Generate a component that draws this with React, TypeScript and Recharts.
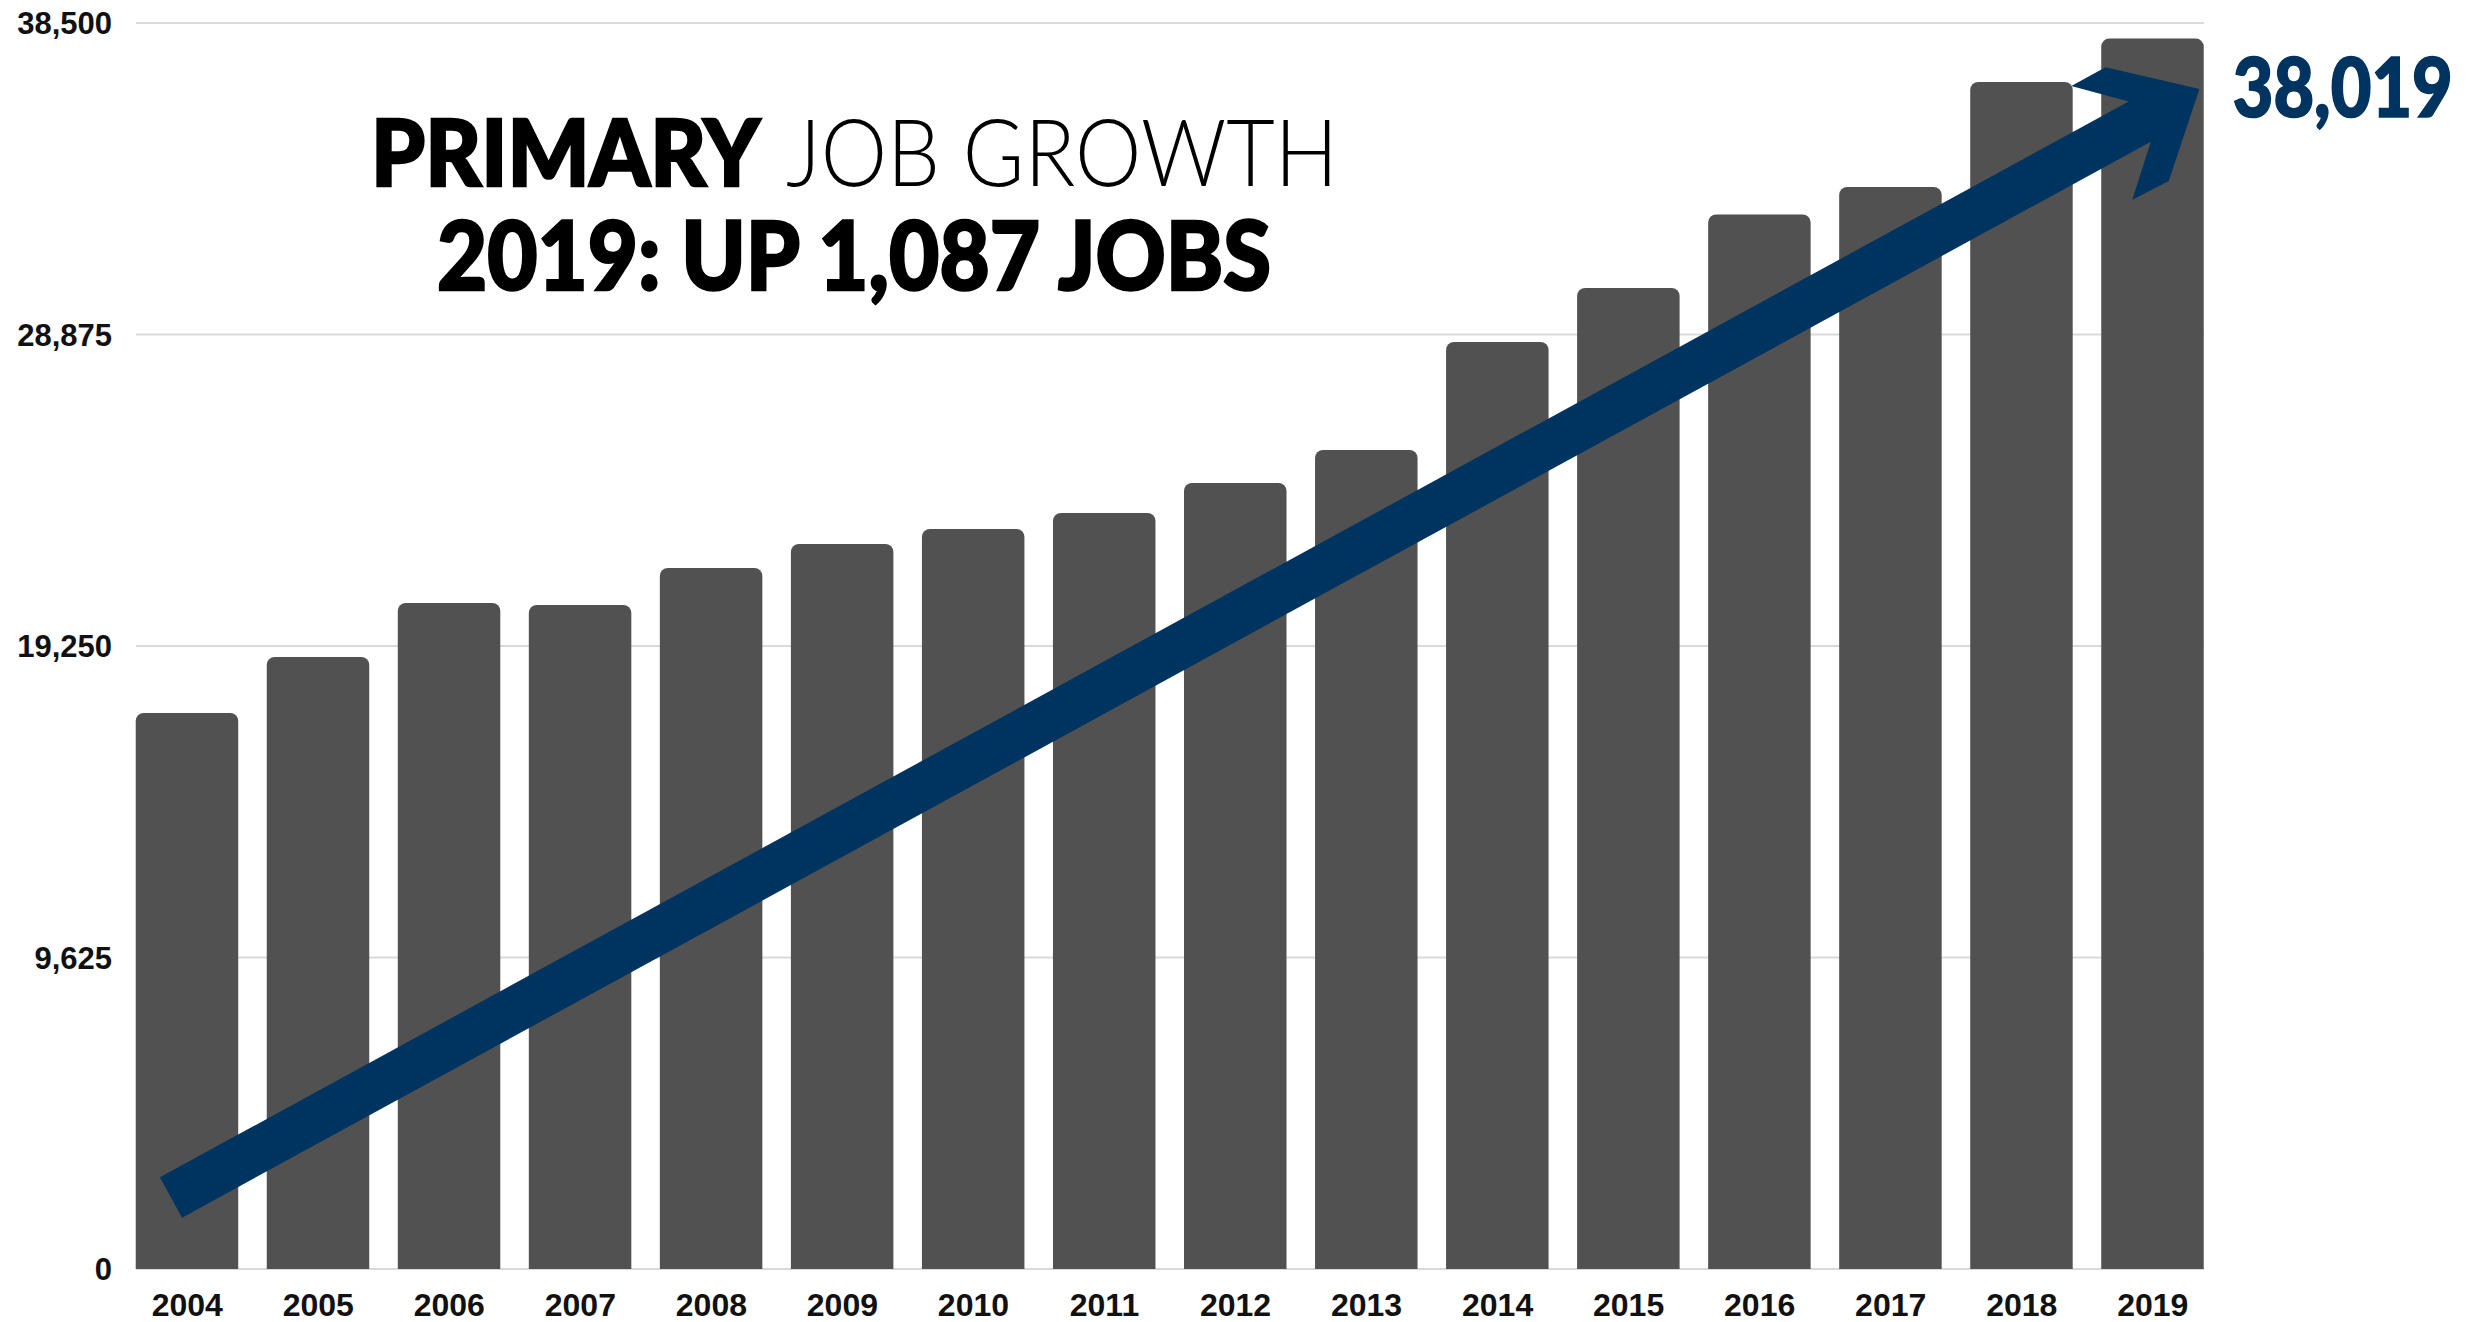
import React from 'react';
import { BarChart, Bar, XAxis, YAxis, CartesianGrid, ReferenceLine, LabelList } from 'recharts';

const years = [2004, 2005, 2006, 2007, 2008, 2009, 2010, 2011, 2012, 2013, 2014, 2015, 2016, 2017, 2018, 2019];
const jobs = [17180, 18910, 20578, 20517, 21660, 22402, 22865, 23360, 24287, 25306, 28643, 30312, 32583, 33432, 36680, 38019];
const yTicks = [0, 9625, 19250, 28875, 38500];
const arrowStart = { x: 2003.876, y: 2209 };
const arrowEnd = { x: 2019.356, y: 36461 };
const titleBold = 'PRIMARY';
const titleLight = 'JOB GROWTH';
const subtitle = '2019: UP 1,087 JOBS';

const data = years.map((year, i) => ({ year, jobs: jobs[i] }));

const NAVY = '#003460';
const BAR = '#515151';
const HALF_BAR = 0.391;

const ArrowShape = (p: any) => {
  const { x1, y1, x2, y2 } = p;
  const dx = x2 - x1;
  const dy = y2 - y1;
  const L = Math.hypot(dx, dy);
  const ux = dx / L;
  const uy = dy / L;
  const nx = uy;
  const ny = -ux;
  const h = 23;
  const local: [number, number][] = [
    [-L, h],
    [-68, h],
    [-111, 64],
    [-72, 64],
    [0, 0],
    [-71, -66],
    [-112, -65],
    [-68, -h],
    [-L, -h],
  ];
  const pts = local
    .map(([u, n]) => `${x2 + u * ux + n * nx},${y2 + u * uy + n * ny}`)
    .join(' ');
  return <polygon points={pts} fill={NAVY} />;
};

const XTick = (p: any) => {
  const { x, y, payload } = p;
  return (
    <text
      x={x}
      y={y + 39}
      textAnchor="middle"
      fontFamily="'Liberation Sans', Arial, sans-serif"
      fontWeight={700}
      fontSize={32}
      fill="#111"
    >
      {String(payload.value)}
    </text>
  );
};

const YTick = (p: any) => {
  const { x, y, payload } = p;
  return (
    <text
      x={x}
      y={y + 11}
      textAnchor="end"
      fontFamily="'Liberation Sans', Arial, sans-serif"
      fontWeight={700}
      fontSize={31}
      fill="#111"
    >
      {Number(payload.value).toLocaleString('en-US')}
    </text>
  );
};

const LastValueLabel = (p: any) => {
  const { x, y, width, value, index } = p;
  if (index !== data.length - 1) return null;
  const tx = x + width + 29;
  const ty = y + 78;
  return (
    <g transform={`translate(${tx},${ty}) scale(1,1.15)`}>
      <text
        x={0}
        y={0}
        fontFamily="Lato, 'Open Sans', sans-serif"
        fontWeight={900}
        fontSize={71}
        fill={NAVY}
        stroke={NAVY}
        strokeWidth={1.5}
        textLength={220}
        lengthAdjust="spacingAndGlyphs"
      >
        {Number(value).toLocaleString('en-US')}
      </text>
    </g>
  );
};

export default function App() {
  return (
    <div style={{ position: 'absolute', left: 0, top: 0, width: 2483, height: 1322, background: '#fff' }}>
      <BarChart
        width={2483}
        height={1322}
        data={data}
        margin={{ top: 23, right: 279, bottom: 0, left: 0 }}
      >
        <CartesianGrid vertical={false} stroke="#d9d9d9" strokeWidth={2} />
        <XAxis
          dataKey="year"
          type="number"
          domain={[years[0] - HALF_BAR, years[years.length - 1] + HALF_BAR]}
          ticks={years}
          interval={0}
          axisLine={false}
          tickLine={false}
          height={53}
          tick={<XTick />}
        />
        <YAxis
          domain={[0, 38500]}
          ticks={yTicks}
          width={136}
          axisLine={false}
          tickLine={false}
          tickMargin={18}
          tick={<YTick />}
        />
        <Bar dataKey="jobs" fill={BAR} barSize={102.5} radius={[8, 8, 0, 0]} isAnimationActive={false}>
          <LabelList dataKey="jobs" content={<LastValueLabel />} />
        </Bar>
        <ReferenceLine
          segment={[arrowStart, arrowEnd]}
          ifOverflow="visible"
          shape={(p: any) => <ArrowShape {...p} />}
        />
      </BarChart>
      <svg
        width={2483}
        height={1322}
        style={{ position: 'absolute', left: 0, top: 0, pointerEvents: 'none' }}
      >
        <text
          x={371}
          y={186}
          fontFamily="Lato, 'Open Sans', sans-serif"
          fontWeight={900}
          fontSize={92}
          fill="#000"
          stroke="#000"
          strokeWidth={2.5}
          textLength={389}
          lengthAdjust="spacingAndGlyphs"
        >
          {titleBold}
        </text>
        <text
          x={786}
          y={186}
          fontFamily="Lato, 'Open Sans', sans-serif"
          fontWeight={300}
          fontSize={92}
          fill="#000"
          textLength={552}
          lengthAdjust="spacingAndGlyphs"
        >
          {titleLight}
        </text>
        <text
          x={437}
          y={290}
          fontFamily="Lato, 'Open Sans', sans-serif"
          fontWeight={900}
          fontSize={95}
          fill="#000"
          stroke="#000"
          strokeWidth={2.5}
          textLength={834}
          lengthAdjust="spacingAndGlyphs"
        >
          {subtitle}
        </text>
      </svg>
    </div>
  );
}
